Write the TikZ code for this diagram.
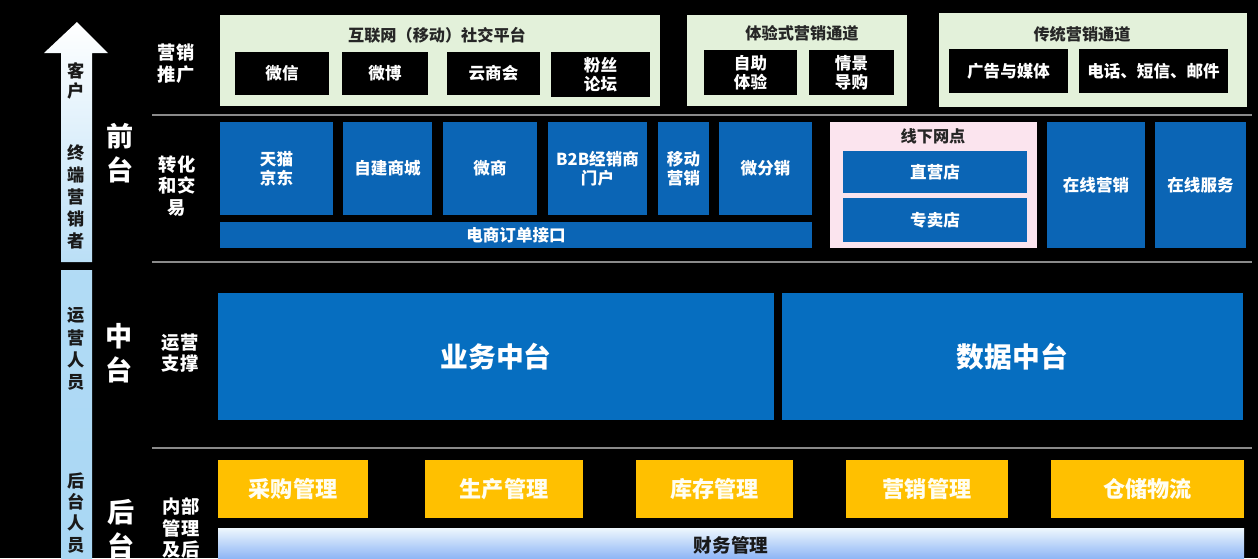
\documentclass[tikz,border=0pt]{standalone}
\usepackage{fontspec}
\setmainfont{Noto Sans CJK SC}
\usepackage{tikz}
\usetikzlibrary{fit}
\definecolor{panelgreen}{HTML}{E3F1DA}
\definecolor{shopblue}{HTML}{0B65B5}
\definecolor{coreblue}{HTML}{066EC0}
\definecolor{shoppink}{HTML}{FBE4EE}
\definecolor{mgyellow}{HTML}{FFC000}
\definecolor{rolblue}{HTML}{A9D7F4}
\definecolor{sepgray}{HTML}{8A8A8A}

\begin{document}
\begin{tikzpicture}[x=0.02cm,y=-0.02cm,
  box/.style={inner sep=0pt, outer sep=0pt},
  panel/.style={box, fill=panelgreen},
  shoppanel/.style={box, fill=shoppink},
  blackbox/.style={box, fill=black},
  bluebox/.style={box, fill=shopblue},
  corebox/.style={box, fill=coreblue},
  mgbox/.style={box, fill=mgyellow},
  btext/.style={text=white, align=center, inner sep=0pt,
    font=\bfseries\fontsize{9.4}{10.6}\selectfont},
  coretext/.style={btext, font=\bfseries\fontsize{15.8}{18}\selectfont},
  mgtext/.style={btext, text=white!95!yellow, font=\bfseries\fontsize{12.6}{14}\selectfont},
  paneltitle/.style={text=black!85, font=\bfseries\fontsize{9.2}{10.6}\selectfont},
  tierlabel/.style={text=white, align=center, font=\bfseries\fontsize{15.4}{19.4}\selectfont},
  rowlabel/.style={text=white, align=center, font=\bfseries\fontsize{10.4}{12.4}\selectfont},
  rolelabel/.style={text=black!90, align=center, font=\bfseries\fontsize{9.8}{12.6}\selectfont},
  sepline/.style={draw=sepgray, line width=0.6pt}]

  \useasboundingbox (0,0) rectangle (1258,558);
  \clip (0,0) rectangle (1258,558);
  \fill[black] (0,0) rectangle (1258,558);

  % role arrow on the left
  \shade[top color=white, bottom color=rolblue!80]
    (61,262) -- (61,53) -- (44,53) -- (77,22) -- (108,53) -- (92,53) -- (92,262) -- cycle;
  \shade[top color=rolblue!90, bottom color=rolblue]
    (61,270) rectangle (92,558);
  \node[rolelabel, font=\bfseries\fontsize{9.8}{11.4}\selectfont] (kh) at (76,81) {客\\户};
  \node[rolelabel] (zd) at (76,197) {终\\端\\营\\销\\者};
  \node[rolelabel] (yy) at (76,349) {运\\营\\人\\员};
  \node[rolelabel, font=\bfseries\fontsize{9.8}{12}\selectfont] (htry) at (76,513) {后\\台\\人\\员};

  % tier and row labels
  \node[tierlabel] (qt) at (120,153) {前\\台};
  \node[tierlabel] (zt) at (119,353) {中\\台};
  \node[tierlabel] (ht) at (121,529) {后\\台};
  \node[rowlabel] (yxtg) at (176,64) {营销\\推广};
  \node[rowlabel] (zhjy) at (177,186) {转化\\和交\\易};
  \node[rowlabel] (yyzc) at (180,353) {运营\\支撑};
  \node[rowlabel] (nbgl) at (181,528) {内部\\管理\\及后};

  % separators
  \draw[sepline] (152,115) -- (1252,115);
  \draw[sepline] (152,262) -- (1252,262);
  \draw[sepline] (152,448) -- (1252,448);

  % marketing channels
  \node[panel, fit={(220,15) (660,106)}] (sns) {};
  \node[paneltitle] (snst) at (437,35) {互联网（移动）社交平台};
  \node[blackbox, fit={(235,52) (329,95)}, label={[btext]center:微信}] (wx) {};
  \node[blackbox, fit={(342,52) (428,95)}, label={[btext]center:微博}] (wb) {};
  \node[blackbox, fit={(447,52) (540,95)}, label={[btext]center:云商会}] (ysh) {};
  \node[blackbox, fit={(551,52) (650,97)}, label={[btext]center:{粉丝\\论坛}}] (fs) {};

  \node[panel, fit={(687,15) (907,106)}] (exp) {};
  \node[paneltitle] (expt) at (802,33) {体验式营销通道};
  \node[blackbox, fit={(704,50) (797,95)}, label={[btext]center:{自助\\体验}}] (zz) {};
  \node[blackbox, fit={(809,50) (894,95)}, label={[btext]center:{情景\\导购}}] (qj) {};

  \node[panel, fit={(939,13) (1247,107)}] (trad) {};
  \node[paneltitle] (tradt) at (1082,34) {传统营销通道};
  \node[blackbox, fit={(949,49) (1068,93)}, label={[btext]center:广告与媒体}] (gg) {};
  \node[blackbox, fit={(1079,49) (1228,93)}, label={[btext]center:电话、短信、邮件}] (dh) {};

  % conversion and trade
  \node[bluebox, fit={(220,122) (333,215)}, label={[btext]center:{天猫\\京东}}] (tm) {};
  \node[bluebox, fit={(343,122) (432,215)}, label={[btext]center:自建商城}] (zj) {};
  \node[bluebox, fit={(443,122) (537,215)}, label={[btext]center:微商}] (ws) {};
  \node[bluebox, fit={(548,122) (647,215)}, label={[btext]center:{B2B经销商\\门户}}] (btb) {};
  \node[bluebox, fit={(658,122) (709,215)}, label={[btext]center:{移动\\营销}}] (yd) {};
  \node[bluebox, fit={(719,122) (812,215)}, label={[btext]center:微分销}] (wfx) {};
  \node[bluebox, fit={(220,222) (812,248)}, label={[btext]center:电商订单接口}] (ddjk) {};

  \node[shoppanel, fit={(830,122) (1037,248)}] (xx) {};
  \node[paneltitle] (xxt) at (933,136) {线下网点};
  \node[bluebox, fit={(843,151) (1027,193)}, label={[btext]center:直营店}] (zy) {};
  \node[bluebox, fit={(843,198) (1027,242)}, label={[btext]center:专卖店}] (zm) {};
  \node[bluebox, fit={(1047,122) (1145,248)}, label={[btext]center:在线营销}] (zxyx) {};
  \node[bluebox, fit={(1155,122) (1246,248)}, label={[btext]center:在线服务}] (zxfw) {};

  % middle platforms
  \node[corebox, fit={(218,293) (774,420)}, label={[coretext]center:业务中台}] (ywzt) {};
  \node[corebox, fit={(782,293) (1243,420)}, label={[coretext]center:数据中台}] (sjzt) {};

  % back office
  \node[mgbox, fit={(218,460) (368,518)}, label={[mgtext]center:采购管理}] (cg) {};
  \node[mgbox, fit={(425,460) (583,518)}, label={[mgtext]center:生产管理}] (sc) {};
  \node[mgbox, fit={(636,460) (793,518)}, label={[mgtext]center:库存管理}] (kc) {};
  \node[mgbox, fit={(846,460) (1008,518)}, label={[mgtext]center:营销管理}] (yx) {};
  \node[mgbox, fit={(1051,460) (1244,518)}, label={[mgtext]center:仓储物流}] (cc) {};
  \shade[top color=white!80!rolblue, bottom color=rolblue!85!blue]
    (218,528) rectangle (1244,558);
  \node[box, fit={(218,528) (1244,562)},
    label={[btext, text=black!90, font=\bfseries\fontsize{10.6}{12}\selectfont]center:财务管理}] (cw) {};
\end{tikzpicture}
\end{document}
